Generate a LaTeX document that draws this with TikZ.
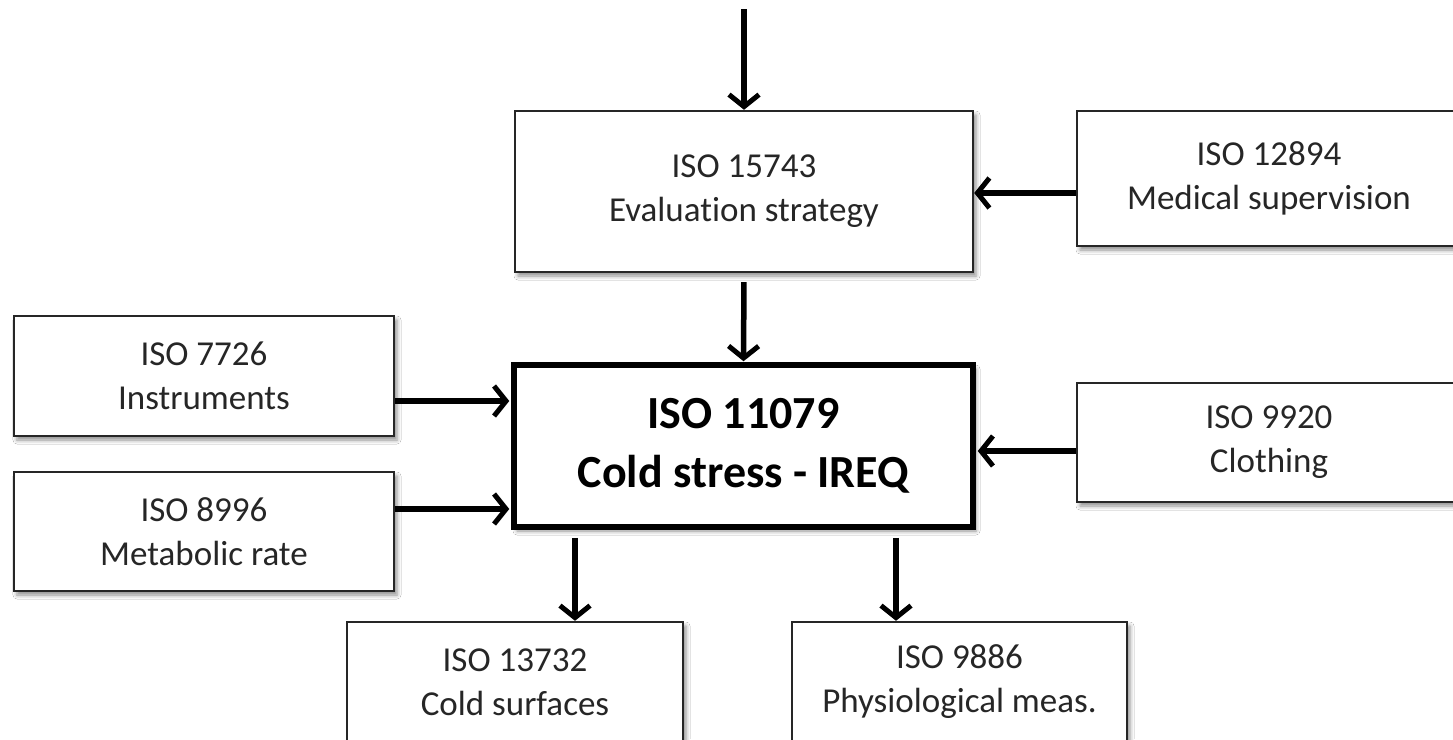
\documentclass[tikz,border=0pt]{standalone}
\usepackage{fontspec}
\setmainfont{Carlito}[Ligatures=NoCommon]
\usetikzlibrary{arrows.meta,shadows.blur}
\begin{document}
\begin{tikzpicture}[x=1pt,y=-1pt,
  stdbox/.style={draw=black!85, line width=2.4pt, fill=white, align=center,
    inner sep=0pt, text=black!85,
    font=\fontsize{35pt}{44pt}\selectfont,
    blur shadow={shadow xshift=3pt, shadow yshift=-4pt, shadow blur radius=4pt, shadow opacity=45}},
  mainbox/.style={stdbox, line width=5.5pt, draw=black, text=black,
    font=\fontsize{46pt}{59pt}\selectfont\bfseries},
  arr/.style={line width=5.5pt, -{Straight Barb[length=12pt,width=30pt,line width=5pt]}}]
\useasboundingbox (0,0) rectangle (1453,739);
\clip (0,0) rectangle (1453,739);
\fill[white] (0,0) rectangle (1453,739);

% boxes
\node[stdbox, minimum width=458pt, minimum height=161pt] (eval) at (744,191.5)
  {ISO 15743\\Evaluation strategy};
\node[stdbox, minimum width=384pt, minimum height=135pt] (med) at (1269,178.5)
  {ISO 12894\\Medical supervision};
\node[stdbox, minimum width=380pt, minimum height=120pt] (instr) at (204,376)
  {ISO 7726\\Instruments};
\node[stdbox, minimum width=380pt, minimum height=119pt] (metab) at (204,531.5)
  {ISO 8996\\Metabolic rate};
\node[mainbox, minimum width=459pt, minimum height=162pt] (cold) at (743.5,446)
  {ISO 11079\\Cold stress - IREQ};
\node[stdbox, minimum width=384pt, minimum height=119pt] (cloth) at (1269,442.5)
  {ISO 9920\\Clothing};
\node[stdbox, minimum width=336pt, minimum height=120pt] (surf) at (515,682)
  {ISO 13732\\Cold surfaces};
\node[stdbox, minimum width=335pt, minimum height=120pt] (phys) at (959.5,682)
  {ISO 9886\\Physiological meas.};

% rows and columns where the connectors run
\coordinate (top) at (744,9);
\coordinate (rowmed) at (0,193);
\coordinate (rowinstr) at (0,401);
\coordinate (rowmetab) at (0,509);
\coordinate (rowcloth) at (0,451);
\coordinate (colsurf) at (575,0);
\coordinate (colphys) at (896,0);

% connectors
\draw[arr] (top) -- (eval.north);
\draw[arr, shorten <=9pt, shorten >=1pt] (eval.south) -- (cold.north);
\draw[arr] (med.west |- rowmed) -- (eval.east |- rowmed);
\draw[arr] (instr.east |- rowinstr) -- ([xshift=-2pt]cold.west |- rowinstr);
\draw[arr] (metab.east |- rowmetab) -- ([xshift=-2pt]cold.west |- rowmetab);
\draw[arr] (cloth.west |- rowcloth) -- ([xshift=2pt]cold.east |- rowcloth);
\draw[arr, shorten <=8pt] (cold.south -| colsurf) -- (surf.north -| colsurf);
\draw[arr, shorten <=8pt] (cold.south -| colphys) -- (phys.north -| colphys);
\end{tikzpicture}
\end{document}
